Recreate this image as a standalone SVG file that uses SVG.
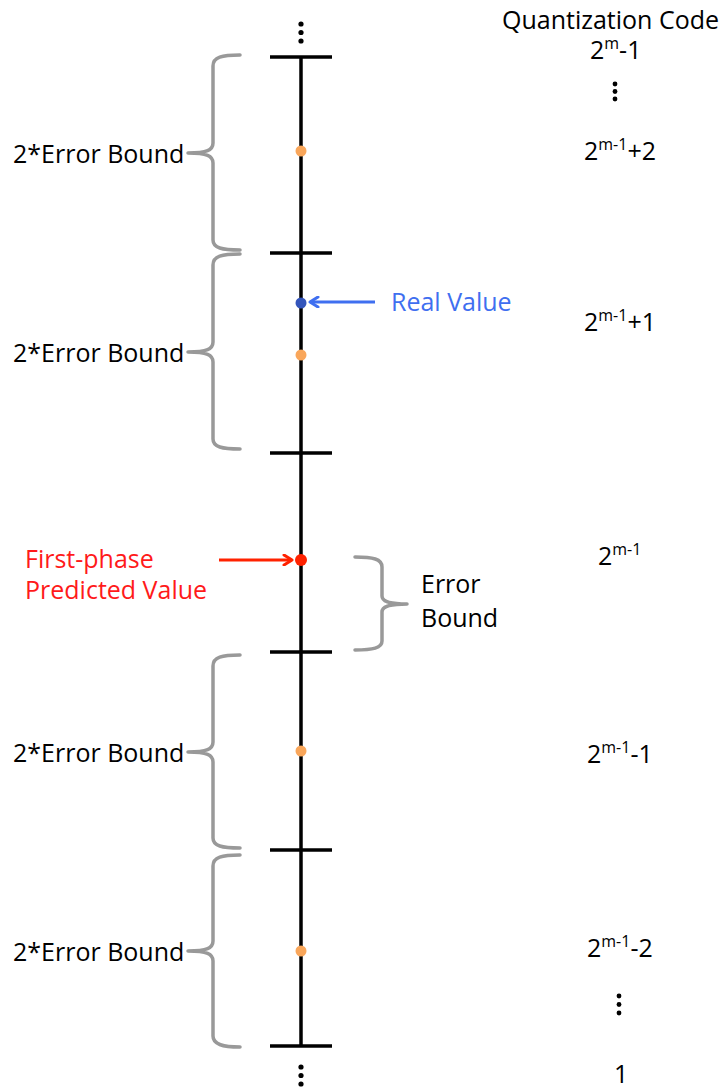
<svg xmlns="http://www.w3.org/2000/svg" width="722" height="1088" viewBox="0 0 722 1088">
  <defs>
    <marker id="headBlue" viewBox="0 0 12 12" refX="10" refY="6" markerWidth="12" markerHeight="12" markerUnits="userSpaceOnUse" orient="auto">
      <path d="M2,1 L10,6 L2,11" fill="none" stroke="#3f6ff0" stroke-width="3" stroke-linejoin="round" stroke-linecap="round"/>
    </marker>
    <marker id="headRed" viewBox="0 0 12 12" refX="10" refY="6" markerWidth="12" markerHeight="12" markerUnits="userSpaceOnUse" orient="auto">
      <path d="M2,1 L10,6 L2,11" fill="none" stroke="#ff2200" stroke-width="3" stroke-linejoin="round" stroke-linecap="round"/>
    </marker>
  </defs>
  <style>
    text { font-family: "Open Sans", "Liberation Sans", Arial, sans-serif; font-size: 25px; fill: #000; }
    .sup { font-size: 16px; }
    .axis { stroke: #000; stroke-width: 3.5; fill: none; }
    .brace { stroke: #999; stroke-width: 3.5; fill: none; stroke-linecap: round; stroke-linejoin: round; }
    .q { fill: #f9a65a; }
    .dots circle { fill: #000; }
  </style>
  <rect width="722" height="1088" fill="#fff"/>

  <!-- number line with interval ticks -->
  <g id="axis">
    <line class="axis" x1="301" y1="57" x2="301" y2="1047"/>
    <line class="axis" x1="270" y1="57" x2="332" y2="57"/>
    <line class="axis" x1="270" y1="253" x2="332" y2="253"/>
    <line class="axis" x1="270" y1="453" x2="332" y2="453"/>
    <line class="axis" x1="270" y1="652" x2="332" y2="652"/>
    <line class="axis" x1="270" y1="850" x2="332" y2="850"/>
    <line class="axis" x1="270" y1="1046" x2="332" y2="1046"/>
  </g>
  <g id="axis-dots" class="dots">
    <circle cx="301" cy="24" r="2.6"/><circle cx="301" cy="32.5" r="2.6"/><circle cx="301" cy="41" r="2.6"/>
    <circle cx="301" cy="1067" r="2.6"/><circle cx="301" cy="1075.5" r="2.6"/><circle cx="301" cy="1084" r="2.6"/>
  </g>

  <!-- interval midpoints -->
  <g id="midpoints">
    <circle class="q" cx="301" cy="151" r="5.5"/>
    <circle class="q" cx="301" cy="355" r="5.5"/>
    <circle class="q" cx="301" cy="751" r="5.5"/>
    <circle class="q" cx="301" cy="951" r="5.5"/>
  </g>

  <!-- braces spanning each interval -->
  <g id="brace-1">
    <path class="brace" d="M240,55 C222,55 213,57 213,66 L213,143 C213,150 207,153 188,153 C207,153 213,156 213,163 L213,240 C213,248 222,250 240,250"/>
    <text x="13" y="163">2*Error Bound</text>
  </g>
  <g id="brace-2">
    <path class="brace" d="M240,254 C222,254 213,256 213,265 L213,342 C213,349 207,352 188,352 C207,352 213,355 213,362 L213,439 C213,447 222,449 240,449"/>
    <text x="13" y="362">2*Error Bound</text>
  </g>
  <g id="brace-3">
    <path class="brace" d="M240,655 C222,655 213,657 213,666 L213,742 C213,749 207,752 188,752 C207,752 213,755 213,762 L213,838 C213,846 222,848 240,848"/>
    <text x="13" y="762">2*Error Bound</text>
  </g>
  <g id="brace-4">
    <path class="brace" d="M240,855 C222,855 213,857 213,866 L213,941 C213,948 207,951 188,951 C207,951 213,954 213,961 L213,1036 C213,1044 222,1047 240,1047"/>
    <text x="13" y="961">2*Error Bound</text>
  </g>
  <g id="brace-half">
    <path class="brace" d="M355,557 C373,557 382,559 382,567 L382,596 C382,601 388,604 407,604 C388,604 382,607 382,612 L382,641 C382,648 373,650 355,650"/>
    <text x="421" y="593">Error</text>
    <text x="421" y="627">Bound</text>
  </g>

  <!-- real value marker -->
  <g id="real-value">
    <circle cx="301" cy="303" r="5.5" fill="#3355bb"/>
    <text x="391" y="311" style="fill:#3f6ff0">Real Value</text>
  </g>

  <!-- prediction marker -->
  <g id="predicted-value">
    <circle cx="301" cy="560" r="6" fill="#ff2200"/>
    <text x="25" y="568" style="fill:#ff1a1a">First-phase</text>
    <text x="25" y="599" style="fill:#ff1a1a">Predicted Value</text>
  </g>

  <g id="connectors">
    <line x1="375" y1="302" x2="310" y2="302" stroke="#3f6ff0" stroke-width="3" marker-end="url(#headBlue)"/>
    <line x1="219" y1="560" x2="292" y2="560" stroke="#ff2200" stroke-width="3" marker-end="url(#headRed)"/>
  </g>

  <!-- quantization code column -->
  <g id="codes">
    <text x="502" y="29">Quantization Code</text>
    <text x="590" y="59">2<tspan class="sup" dy="-10">m</tspan><tspan dy="10">-1</tspan></text>
    <g class="dots">
      <circle cx="615" cy="84" r="2.4"/><circle cx="615" cy="91.5" r="2.4"/><circle cx="615" cy="99" r="2.4"/>
    </g>
    <text x="584" y="160">2<tspan class="sup" dy="-10">m-1</tspan><tspan dy="10">+2</tspan></text>
    <text x="584" y="331">2<tspan class="sup" dy="-10">m-1</tspan><tspan dy="10">+1</tspan></text>
    <text x="598" y="565">2<tspan class="sup" dy="-10">m-1</tspan></text>
    <text x="587" y="763">2<tspan class="sup" dy="-10">m-1</tspan><tspan dy="10">-1</tspan></text>
    <text x="587" y="957">2<tspan class="sup" dy="-10">m-1</tspan><tspan dy="10">-2</tspan></text>
    <g class="dots">
      <circle cx="619" cy="996" r="2.4"/><circle cx="619" cy="1004.5" r="2.4"/><circle cx="619" cy="1013" r="2.4"/>
    </g>
    <text x="614" y="1083">1</text>
  </g>
</svg>
